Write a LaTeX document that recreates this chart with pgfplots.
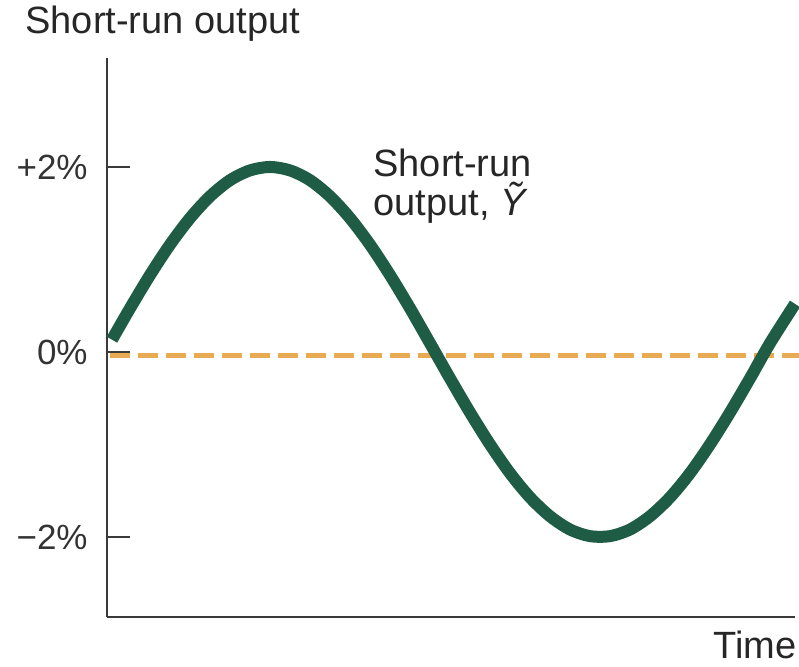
\documentclass[border=0pt]{standalone}
\usepackage{pgfplots}
\pgfplotsset{compat=1.18}
\usepackage{fontspec}
\setmainfont{Liberation Sans}
\definecolor{curvegreen}{HTML}{1F5C45}
\definecolor{dashorange}{HTML}{E8AA52}
\definecolor{axisgray}{HTML}{3A3A3A}
\begin{document}
\begin{tikzpicture}
\useasboundingbox (-53.5pt,-24.5pt) rectangle (346pt,308.5pt);
\begin{axis}[
  scale only axis,
  width=344pt, height=279.5pt,
  xmin=107, xmax=795,
  ymin=-2.865, ymax=3.178,
  axis lines=left,
  axis line style={axisgray, line width=1.2pt, -},
  clip=false,
  xtick=\empty,
  ytick={-2,0,2},
  yticklabels={−2\%,0\%,+2\%},
  tick style={axisgray, line width=1.2pt},
  major tick length=11.5pt,
  ytick align=inside,
  /pgf/number format/assume math mode=true,
  yticklabel style={font=\fontsize{17.5}{20}\selectfont, text=black!80, inner sep=0pt, xshift=-9.5pt},
]
\addplot[dashorange, line width=2.4pt, dash pattern=on 10pt off 4pt] coordinates {(110,-0.04) (799,-0.04)};
\addplot[curvegreen, line width=6pt, smooth] coordinates {
(112,0.133) (130,0.472) (150,0.831) (170,1.160) (190,1.447) (210,1.682)
(230,1.857) (250,1.963) (270,2.000) (290,1.963) (310,1.857) (330,1.682)
(350,1.447) (370,1.160) (390,0.831) (410,0.473) (430,0.095) (450,-0.285)
(470,-0.654) (490,-0.999) (510,-1.310) (530,-1.572) (550,-1.776) (570,-1.919)
(590,-1.991) (610,-1.991) (630,-1.919) (650,-1.776) (670,-1.572) (690,-1.310)
(710,-0.999) (730,-0.654) (750,-0.285) (770,0.095) (795,0.520)
};
\node[anchor=base west, inner sep=0pt, font=\fontsize{19}{22}\selectfont, text=black!85] at (axis cs:25,3.44) {Short-run output};
\node[anchor=base east, inner sep=0pt, font=\fontsize{19}{22}\selectfont, text=black!85] at (axis cs:797,-3.31) {Time};
\node[anchor=base west, inner sep=0pt, font=\fontsize{19}{22}\selectfont, text=black!85] at (axis cs:373,1.90) {Short-run};
\node[anchor=base west, inner sep=0pt, font=\fontsize{19}{22}\selectfont, text=black!85] at (axis cs:373,1.47) {output, \textit{\~{Y}}};
\end{axis}
\end{tikzpicture}
\end{document}
